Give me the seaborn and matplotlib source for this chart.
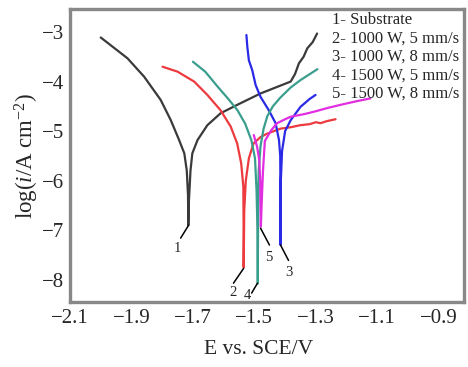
import numpy as np
import pandas as pd
import matplotlib
matplotlib.use("Agg")
import matplotlib.pyplot as plt
import seaborn as sns

# ---- data ----
E1 = [-2.00, -1.913, -1.859, -1.805, -1.772, -1.745, -1.728, -1.720, -1.716, -1.715, -1.713, -1.708, -1.702,
      -1.685, -1.653, -1.610, -1.556, -1.480, -1.382, -1.368, -1.355, -1.340, -1.328, -1.310, -1.296]
L1 = [-3.11, -3.53, -3.90, -4.37, -4.78, -5.18, -5.45, -5.80, -6.30, -6.90, -6.40, -5.80, -5.45,
      -5.18, -4.88, -4.64, -4.47, -4.24, -4.00, -3.85, -3.63, -3.50, -3.33, -3.20, -3.03]

E2 = [-1.799, -1.750, -1.696, -1.653, -1.610, -1.577, -1.556, -1.543, -1.536, -1.535, -1.535, -1.533,
      -1.528, -1.518, -1.503, -1.480, -1.458, -1.415, -1.380, -1.350, -1.320, -1.300, -1.285, -1.265, -1.236]
L2 = [-3.70, -3.80, -4.00, -4.27, -4.58, -4.91, -5.25, -5.65, -6.12, -7.00, -7.75, -6.60,
      -6.00, -5.55, -5.25, -5.12, -5.05, -4.95, -4.92, -4.88, -4.86, -4.82, -4.84, -4.80, -4.76]

E3 = [-1.526, -1.523, -1.518, -1.507, -1.496, -1.480, -1.453, -1.431, -1.420, -1.416, -1.415, -1.415,
      -1.414, -1.410, -1.400, -1.382, -1.350, -1.320, -1.301]
L3 = [-3.06, -3.30, -3.57, -3.77, -4.07, -4.31, -4.58, -4.84, -5.18, -5.50, -6.40, -7.30,
      -6.00, -5.40, -5.00, -4.78, -4.51, -4.35, -4.27]

E4 = [-1.70, -1.66, -1.62, -1.585, -1.555, -1.530, -1.510, -1.498, -1.493, -1.490, -1.489, -1.488,
      -1.486, -1.480, -1.470, -1.458, -1.440, -1.415, -1.382, -1.350, -1.320, -1.295]
L4 = [-3.60, -3.80, -4.10, -4.35, -4.58, -4.85, -5.18, -5.55, -6.20, -7.00, -8.08, -6.80,
      -5.80, -5.30, -4.95, -4.70, -4.50, -4.32, -4.12, -3.97, -3.85, -3.75]

E5 = [-1.502, -1.491, -1.484, -1.481, -1.480, -1.479, -1.476, -1.472, -1.466, -1.445, -1.426, -1.400,
      -1.382, -1.340, -1.307, -1.260, -1.220, -1.170, -1.123]
L5 = [-5.08, -5.32, -5.60, -6.00, -6.50, -6.93, -6.40, -5.80, -5.20, -4.98, -4.84, -4.76,
      -4.71, -4.66, -4.61, -4.53, -4.47, -4.40, -4.34]

curve_ids = ["1", "2", "3", "4", "5"]
legend_lines = ["1- Substrate", "2- 1000 W, 5 mm/s", "3- 1000 W, 8 mm/s",
                "4- 1500 W, 5 mm/s", "5- 1500 W, 8 mm/s"]
x_ticks = [-2.1, -1.9, -1.7, -1.5, -1.3, -1.1, -0.9]
y_ticks = [-3, -4, -5, -6, -7, -8]

# ---- style ----
sns.set_style("white")
plt.rcParams["font.family"] = ["Liberation Serif", "DejaVu Serif"]
plt.rcParams["mathtext.fontset"] = "custom"
plt.rcParams["mathtext.rm"] = "Liberation Serif"
plt.rcParams["mathtext.it"] = "Liberation Serif:italic"

colors = {"1": "#3a3a3a", "2": "#ec3a3e", "3": "#2a2ae6", "4": "#3a9e8e", "5": "#e12ee1"}

frames = []
for cid, E, L in zip(curve_ids, [E1, E2, E3, E4, E5], [L1, L2, L3, L4, L5]):
    frames.append(pd.DataFrame({"E": E, "logi": L, "curve": cid}))
df = pd.concat(frames, ignore_index=True)

fig = plt.figure(figsize=(4.68, 3.67), dpi=100)
ax = fig.add_axes([70 / 468, 1 - 302 / 367, (464 - 70) / 468, (302 - 9) / 367])

sns.lineplot(data=df, x="E", y="logi", hue="curve", hue_order=curve_ids, palette=colors,
             sort=False, estimator=None, units="curve", linewidth=1.6, legend=False, ax=ax)

ax.set_xlim(-2.097, -0.818)
ax.set_ylim(-8.45, -2.535)
ax.set_xticks(x_ticks)
ax.set_xticklabels([f"{v:.1f}".replace("-", "\u2212") for v in x_ticks])
ax.set_xticks(np.arange(-2.0, -0.85, 0.1), minor=True)
ax.set_yticks(y_ticks)
ax.tick_params(axis="x", which="both", direction="in", length=2.5, width=1.5, color="#777777",
               labelsize=15, pad=5)
ax.tick_params(axis="y", which="major", direction="in", length=3, width=1.2, color="#777777",
               labelsize=15, pad=4)
for s in ax.spines.values():
    s.set_color("#888888")
    s.set_linewidth(2.4)

ax.set_xlabel("E vs. SCE/V", fontsize=15.5)
ax.xaxis.set_label_coords((259 - 70) / 394, -0.128)
ax.set_ylabel(r"log($i$/A cm$^{-2}$)", fontsize=16.5, labelpad=1)

# curve number labels with leader lines
labels = [("1", (-1.749, -7.38), (-1.740, -7.16), (-1.714, -6.90)),
          ("2", (-1.571, -8.25), (-1.568, -8.07), (-1.535, -7.77)),
          ("4", (-1.522, -8.31), (-1.509, -8.27), (-1.490, -8.07)),
          ("5", (-1.454, -7.55), (-1.480, -6.96), (-1.451, -7.30)),
          ("3", (-1.386, -7.85), (-1.415, -7.30), (-1.389, -7.61))]
for txt, tpos, p0, p1 in labels:
    ax.text(tpos[0], tpos[1], txt, fontsize=10.5, ha="center", va="center")
    ax.plot([p0[0], p1[0]], [p0[1], p1[1]], color="black", lw=1.1)

ys = [0.962, 0.898, 0.836, 0.771, 0.710]
for t, yy in zip(legend_lines, ys):
    ax.text(0.665, yy, t, transform=ax.transAxes, fontsize=12, ha="left", va="center")

fig.savefig("out.png", dpi=100)
